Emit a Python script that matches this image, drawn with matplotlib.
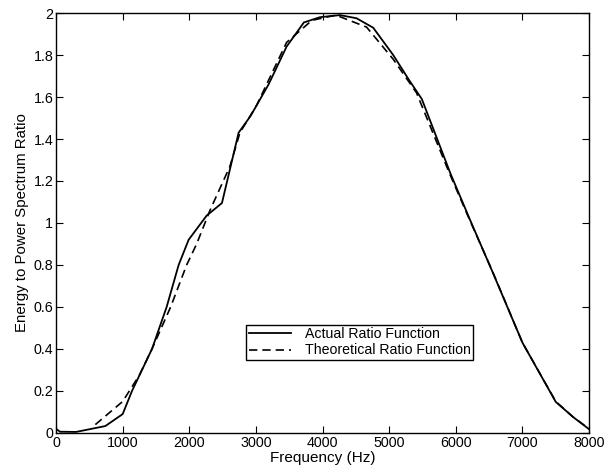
import matplotlib
matplotlib.use('Agg')
import matplotlib.pyplot as plt

# ── Data ────────────────────────────────────────────────────────────────
freq_actual = [0, 60, 300, 740, 1000, 1140, 1440, 1660, 1840, 1990, 2260,
               2490, 2740, 2920, 3190, 3460, 3720, 3960, 4260, 4510, 4760,
               5060, 5300, 5490, 5920, 6220, 6560, 7000, 7500, 7760, 8000]
ratio_actual = [0.02, 0.006, 0.005, 0.033, 0.09, 0.2, 0.4, 0.6, 0.8, 0.92,
                1.035, 1.095, 1.43, 1.51, 1.66, 1.84, 1.955, 1.98, 1.99,
                1.975, 1.93, 1.80, 1.68, 1.59, 1.235, 1.01, 0.76, 0.43,
                0.148, 0.076, 0.018]

freq_theory = [590, 1000, 1250, 1440, 1720, 1960, 2110, 2310, 2610, 2760,
               3010, 3460, 3840, 4200, 4660, 5060, 5410, 5900, 6200, 6550,
               7000, 7500, 7760, 8000]
ratio_theory = [0.04, 0.15, 0.275, 0.4, 0.6, 0.8, 0.9, 1.06, 1.27, 1.43,
                1.56, 1.86, 1.965, 1.99, 1.933, 1.78, 1.62, 1.24, 1.02, 0.77,
                0.43, 0.15, 0.076, 0.02]

x_ticks = [0, 1000, 2000, 3000, 4000, 5000, 6000, 7000, 8000]
y_ticks = [0, 0.2, 0.4, 0.6, 0.8, 1, 1.2, 1.4, 1.6, 1.8, 2]
y_tick_labels = ['0', '0.2', '0.4', '0.6', '0.8', '1', '1.2', '1.4', '1.6',
                 '1.8', '2']

plt.rcParams['font.family'] = ['Liberation Sans', 'DejaVu Sans']

fig = plt.figure(figsize=(6.13, 4.73), dpi=100)
ax = fig.add_axes([0.0914, 0.0846, 0.8696, 0.8879])

ax.plot(freq_actual, ratio_actual, 'k-', linewidth=1.3,
        label='Actual Ratio Function')
ax.plot(freq_theory, ratio_theory, 'k--', linewidth=1.2, dashes=(5, 3),
        label='Theoretical Ratio Function')

ax.set_xlim(0, 8000)
ax.set_ylim(0, 2)
ax.set_xticks(x_ticks)
ax.set_yticks(y_ticks)
ax.set_yticklabels(y_tick_labels)
ax.tick_params(direction='in', top=True, right=True, length=5,
               labelsize=10.3, pad=2)
for s in ax.spines.values():
    s.set_linewidth(1.0)

ax.set_xlabel('Frequency (Hz)', fontsize=11, labelpad=1)
ax.set_ylabel('Energy to Power Spectrum Ratio', fontsize=10.8, labelpad=3)

leg = ax.legend(loc='lower left', bbox_to_anchor=(0.356, 0.173, 0.426, 0.081),
                mode='expand', fontsize=10.2, handlelength=3.0,
                handletextpad=1.0, borderpad=0.2, labelspacing=0.15,
                fancybox=False, framealpha=1, edgecolor='black',
                borderaxespad=0)
leg.get_frame().set_linewidth(1.0)

fig.savefig('out.png', dpi=100)
